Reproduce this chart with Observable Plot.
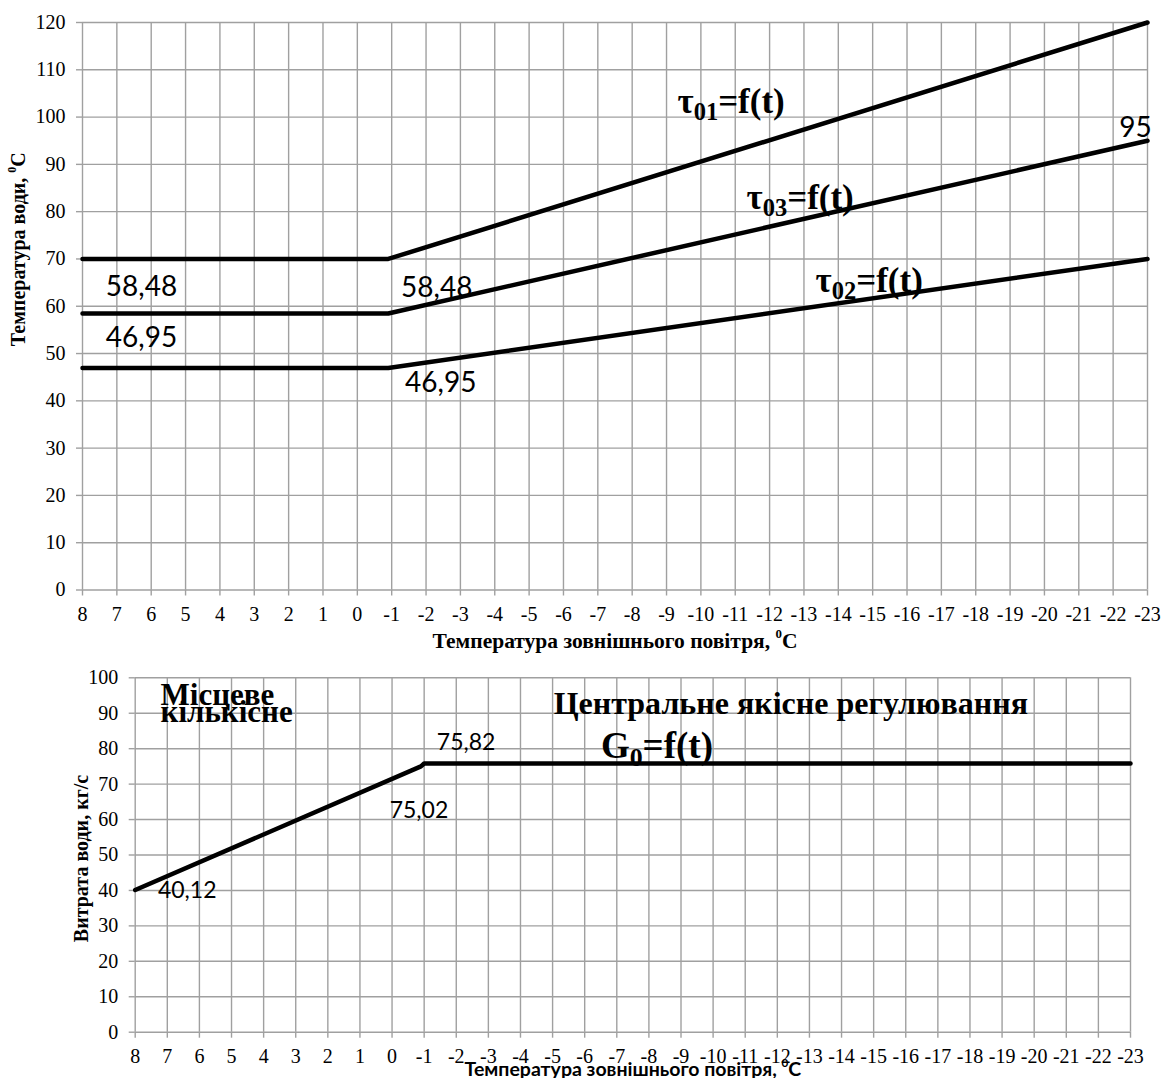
<!DOCTYPE html>
<html>
<head>
<meta charset="utf-8">
<script src="https://cdn.jsdelivr.net/npm/d3@7"></script>
<script src="https://cdn.jsdelivr.net/npm/@observablehq/plot@0.6"></script>
<style>
  body { margin: 0; background: #fff; }
  #charts { width: 1164px; height: 1078px; position: relative; overflow: hidden; background: #fff; }
  #charts svg { display: block; }
</style>
</head>
<body>
<div id="charts"></div>
<script>
// Outdoor air temperature, °C — break of the control schedule near -1 °C
const outdoorTemp = [8, -0.9, -23];
// Supply water temperature τ01, °C
const tau01 = [70, 70, 120];
// Mixed water temperature τ03, °C
const tau03 = [58.48, 58.48, 95];
// Return water temperature τ02, °C
const tau02 = [46.95, 46.95, 70];

// Water flow G0, kg/s (local quantitative regulation, then constant flow)
const flowTemp = [8, -0.9, -1, -23];
const flowG0 = [40.12, 75.02, 75.82, 75.82];

// Axis ticks
const xTicks = d3.range(8, -24, -1);
const yTicksTemp = d3.range(0, 121, 10);
const yTicksFlow = d3.range(0, 101, 10);

const GRID = "#a0a0a0";
const SERIF = "'Liberation Serif', 'Times New Roman', serif";
const SANS = "Lato, 'Open Sans', sans-serif";
const fmt = v => String(v).replace(".", ",");

const tempRows = outdoorTemp.flatMap((t, i) => [
  {t, v: tau01[i], s: "τ01"},
  {t, v: tau03[i], s: "τ03"},
  {t, v: tau02[i], s: "τ02"}
]);
const flowRows = flowTemp.map((t, i) => ({t, v: flowG0[i]}));

// grid, tick marks and tick labels shared by both charts
function gridAndAxes(yTicks) {
  return [
    Plot.gridX(xTicks, {stroke: GRID, strokeOpacity: 1, strokeWidth: 1.4}),
    Plot.gridY(yTicks, {stroke: GRID, strokeOpacity: 1, strokeWidth: 1.4}),
    Plot.axisX(xTicks, {tickSize: 6, tickPadding: 11, tickFormat: d => String(d),
      color: "black", stroke: GRID, strokeWidth: 1.4,
      fontFamily: SERIF, fontSize: 20, label: null}),
    Plot.axisY(yTicks, {tickSize: 6, tickPadding: 11, tickFormat: d => String(d),
      color: "black", stroke: GRID, strokeWidth: 1.4,
      fontFamily: SERIF, fontSize: 20, label: null})
  ];
}

// value label attached to a data point
function valueNote(t, v, dx, dy, size, text = fmt(v)) {
  return Plot.text([{t, v}], {x: "t", y: "v", text: () => text, dx, dy,
    fontFamily: SANS, fontSize: size, fill: "black"});
}

function seriesLabel(t, v, text, size = 35) {
  return Plot.text([{t, v}], {x: "t", y: "v", text: () => text,
    fontFamily: SERIF, fontWeight: "bold", fontSize: size, fill: "black"});
}

function axisTitle(text, options) {
  return Plot.text([text], {textAnchor: "middle", lineAnchor: "middle",
    fontWeight: "bold", fill: "black", ...options});
}

// serif tick labels; _{..} and ^{..} markers become subscript / superscript tspans
function enrich(svg) {
  const root = d3.select(svg);
  root.selectAll('g[aria-label$="tick label"]')
    .attr("font-family", SERIF).attr("font-size", 20)
    .selectAll("text").style("font-family", SERIF);
  root.selectAll("text").each(function () {
    const s = this.textContent;
    if (!/[_^]\{/.test(s) || this.querySelector("tspan")) return;
    const el = d3.select(this);
    el.text(null);
    const re = /([_^])\{([^}]*)\}/g;
    let last = 0, m;
    while ((m = re.exec(s))) {
      if (m.index > last) el.append("tspan").text(s.slice(last, m.index));
      const sub = m[1] === "_";
      el.append("tspan")
        .attr("font-size", sub ? "0.7em" : "0.6em")
        .attr("baseline-shift", sub ? "-0.3em" : "0.75em")
        .text(m[2]);
      last = re.lastIndex;
    }
    if (last < s.length) el.append("tspan").text(s.slice(last));
  });
  return svg;
}

// Upper chart: water temperatures
const topChart = Plot.plot({
  width: 1164,
  height: 655,
  marginLeft: 82,
  marginRight: 17,
  marginTop: 22,
  marginBottom: 65.5,
  x: {domain: [8, -23]},
  y: {domain: [0, 120]},
  style: {fontFamily: SERIF, fontSize: "20px", color: "black", background: "white"},
  marks: [
    ...gridAndAxes(yTicksTemp),
    Plot.line(tempRows, {x: "t", y: "v", z: "s", stroke: "black", strokeWidth: 4.5}),
    valueNote(outdoorTemp[0], tau03[0], 59, -26, 28),
    valueNote(outdoorTemp[0], tau02[0], 59, -29.5, 28),
    valueNote(outdoorTemp[1], tau03[1], 48.5, -25, 28),
    valueNote(outdoorTemp[1], tau02[1], 52.5, 15.5, 28),
    valueNote(outdoorTemp[2], tau03[2], -12, -13, 28),
    seriesLabel(-10.88, 103.3, "τ_{01}=f(t)"),
    seriesLabel(-12.89, 83.0, "τ_{03}=f(t)"),
    seriesLabel(-14.9, 65.4, "τ_{02}=f(t)"),
    axisTitle("Температура зовнішнього повітря, ^{0}C", {frameAnchor: "bottom", dy: 51.5,
      fontFamily: SERIF, fontSize: 21.5}),
    axisTitle("Температура води, ^{0}C", {frameAnchor: "left", dx: -64, dy: -57, rotate: -90,
      fontFamily: SERIF, fontSize: 20})
  ]
});

// Lower chart: water flow
const bottomChart = Plot.plot({
  width: 1164,
  height: 423,
  marginLeft: 134.7,
  marginRight: 34,
  marginTop: 22.3,
  marginBottom: 46.3,
  x: {domain: [8, -23]},
  y: {domain: [0, 100]},
  style: {fontFamily: SERIF, fontSize: "20px", color: "black", background: "white"},
  marks: [
    ...gridAndAxes(yTicksFlow),
    Plot.line(flowRows, {x: "t", y: "v", stroke: "black", strokeWidth: 4.5}),
    valueNote(flowTemp[0], flowG0[0], 52, 0.5, 23),
    valueNote(flowTemp[1], flowG0[1], -2, 44, 23),
    valueNote(flowTemp[2], flowG0[2], 42, -21, 23),
    Plot.text([{t: 7.21, v: 91.5}], {x: "t", y: "v", text: () => "Місцеве\nкількісне",
      textAnchor: "start", lineHeight: 0.55,
      fontFamily: SERIF, fontWeight: "bold", fontSize: 31, fill: "black"}),
    seriesLabel(-12.42, 92.8, "Центральне якісне регулювання", 32),
    seriesLabel(-8.25, 80.8, "G_{0}=f(t)", 37),
    axisTitle("Температура зовнішнього повітря, ^{0}C", {frameAnchor: "bottom", dy: 37.5,
      fontFamily: SANS, fontSize: 19.5}),
    axisTitle("Витрата води, кг/с", {frameAnchor: "left", dx: -54, dy: 3.5, rotate: -90,
      fontFamily: SERIF, fontSize: 20})
  ]
});

const host = document.getElementById("charts");
host.appendChild(enrich(topChart));
host.appendChild(enrich(bottomChart));
</script>
</body>
</html>
